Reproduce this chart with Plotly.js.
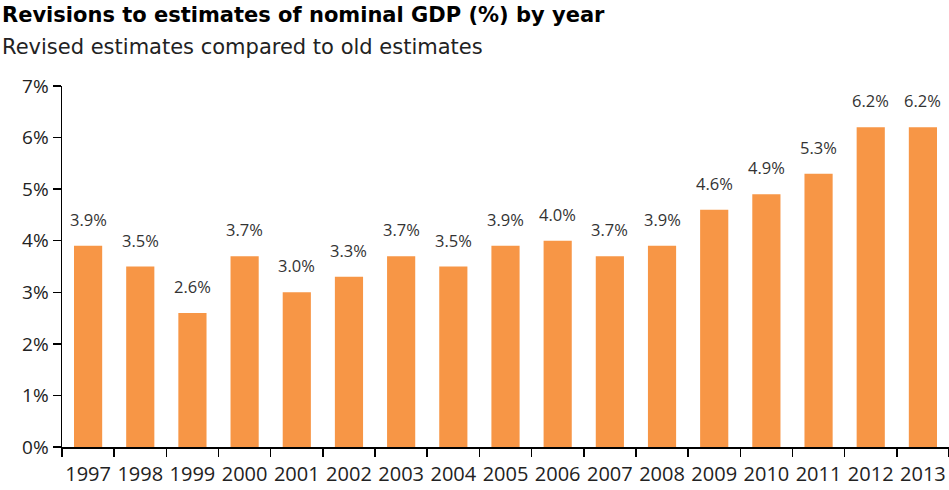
<!DOCTYPE html>
<html><head><meta charset="utf-8">
<script src="https://cdn.plot.ly/plotly-3.0.1.min.js"></script>
<style>html,body{margin:0;padding:0;background:#fff;}</style>
</head><body>
<div id="chart" style="width:949px;height:490px;"></div>
<script>
const years = ['1997','1998','1999','2000','2001','2002','2003','2004','2005','2006','2007','2008','2009','2010','2011','2012','2013'];
const revisions = [3.9,3.5,2.6,3.7,3.0,3.3,3.7,3.5,3.9,4.0,3.7,3.9,4.6,4.9,5.3,6.2,6.2];
const yTicks = [0,1,2,3,4,5,6,7];
const yTickLabels = yTicks.map(v => v + '%');

const font = '"Open Sans", sans-serif';
const titleFont = '"DejaVu Sans", sans-serif';
const trace = {
  type: 'bar',
  x: years,
  y: revisions,
  marker: {color: '#F79646'},
  hoverinfo: 'none'
};
const labelAnnotations = years.map((yr, i) => ({
  x: i, y: revisions[i], xref: 'x', yref: 'y',
  text: revisions[i].toFixed(1) + '%',
  showarrow: false, xanchor: 'center', yanchor: 'bottom', yshift: 13,
  font: {family: font, size: 16.5, color: '#333'}
}));
const layout = {
  width: 949, height: 490,
  margin: {l: 62, r: 0, t: 86, b: 43},
  paper_bgcolor: '#fff', plot_bgcolor: '#fff',
  showlegend: false,
  bargap: 0.46,
  xaxis: {
    type: 'category',
    range: [-0.5, years.length - 0.5],
    tickangle: 0,
    ticklabelstandoff: 8,
    showline: true, linecolor: '#000', linewidth: 1.5,
    ticks: 'outside', tickson: 'boundaries', ticklen: 8, tickcolor: '#000', tickwidth: 1.5,
    tickfont: {family: font, size: 20, color: '#222'},
    showgrid: false, zeroline: false
  },
  yaxis: {
    range: [0, 7],
    tickvals: yTicks, ticktext: yTickLabels,
    showline: true, linecolor: '#000', linewidth: 1.5,
    ticks: 'outside', ticklen: 8, tickcolor: '#000', tickwidth: 1.5,
    tickfont: {family: font, size: 19, color: '#222'},
    showgrid: false, zeroline: false
  },
  annotations: [
    {text: '<b>Revisions to estimates of nominal GDP (%) by year</b>', xref: 'paper', yref: 'paper',
     x: -62/887, y: 1 + 71/361, xanchor: 'left', yanchor: 'middle', showarrow: false,
     font: {family: titleFont, size: 21, color: '#000'}},
    {text: 'Revised estimates compared to old estimates', xref: 'paper', yref: 'paper',
     x: -62/887, y: 1 + 39/361, xanchor: 'left', yanchor: 'middle', showarrow: false,
     font: {family: titleFont, size: 21, color: '#222'}}
  ].concat(labelAnnotations)
};
Plotly.newPlot('chart', [trace], layout, {displayModeBar: false, staticPlot: true});
</script>
</body></html>
